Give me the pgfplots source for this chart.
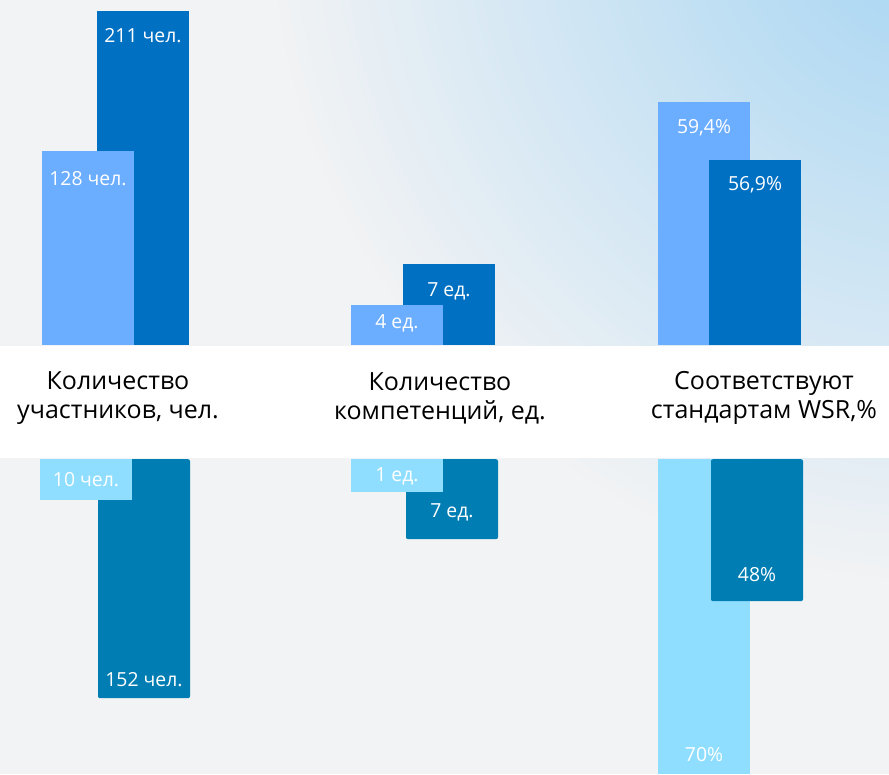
\documentclass[border=0pt]{standalone}
\usepackage{fontspec}
\setmainfont{Open Sans}
\usepackage{pgfplots}
\pgfplotsset{compat=1.18}
\definecolor{bgc}{HTML}{F2F3F4}
\definecolor{skyc}{HTML}{A4D4F3}
\definecolor{topL}{HTML}{6BADFF}
\definecolor{topD}{HTML}{0070C2}
\definecolor{botL}{HTML}{8FDEFF}
\definecolor{botD}{HTML}{007DB2}
\begin{document}
\begin{tikzpicture}
\begin{scope}[x=0.5pt,y=-0.5pt]
\useasboundingbox (0,0) rectangle (889,774);
\clip (0,0) rectangle (889,774);
\fill[bgc] (0,0) rectangle (889,774);
\shade[inner color=skyc, outer color=bgc] (940,-90) circle (680);
\fill[white] (0,346) rectangle (889,458);
\end{scope}
% upper half: bars growing upward from the white band
\begin{axis}[at={(0pt,-172.5pt)}, anchor=south west, scale only axis,
  width=444.5pt, height=172.5pt, xmin=0, xmax=889, ymin=0, ymax=345,
  axis line style={draw=none}, ytick=\empty, major tick length=0pt,
  xtick={118,440,764},
  xticklabels={{Количество\\участников, чел.},{Количество\\компетенций, ед.},{Соответствуют\\стандартам WSR,\%}},
  xticklabel style={anchor=center, yshift=-26.5pt, align=center, text=black,
    font=\fontsize{12.5}{14.5}\selectfont},
  ybar, bar width=92, clip=false,
  nodes near coords, point meta=explicit symbolic,
  every node near coord/.append style={anchor=center, text=white,
    font=\fontsize{9.7}{11}\selectfont}]
\addplot[fill=topD, draw=none, bar shift=0pt, every node near coord/.append style={yshift=-12pt}] coordinates {(143,334) [211 чел.]};
\addplot[fill=topD, draw=none, bar shift=0pt, every node near coord/.append style={yshift=-13.5pt}] coordinates {(449,81) [7 ед.]};
\addplot[fill=topL, draw=none, bar shift=0pt, every node near coord/.append style={yshift=-13.5pt}] coordinates {(88,194) [128 чел.]};
\addplot[fill=topL, draw=none, bar shift=0pt, every node near coord/.append style={yshift=-9pt}] coordinates {(397,40) [4 ед.]};
\addplot[fill=topL, draw=none, bar shift=0pt, every node near coord/.append style={yshift=-13pt}] coordinates {(704,243) [{59,4\%}]};
\addplot[fill=topD, draw=none, bar shift=0pt, every node near coord/.append style={yshift=-12.5pt}] coordinates {(755,185) [{56,9\%}]};
\end{axis}
% lower half: bars hanging downward from the white band
\begin{axis}[at={(0pt,-229.5pt)}, anchor=north west, scale only axis,
  width=444.5pt, height=157.5pt, xmin=0, xmax=889, ymin=0, ymax=315,
  y dir=reverse, hide axis,
  ybar, bar width=92, clip=false,
  nodes near coords, point meta=explicit symbolic,
  every node near coord/.append style={anchor=center, text=white,
    font=\fontsize{9.7}{11}\selectfont}]
\addplot[fill=botD, draw=none, rounded corners=1pt, bar shift=0pt, every node near coord/.append style={yshift=9.5pt}] coordinates {(144,239) [152 чел.]};
\addplot[fill=botD, draw=none, rounded corners=1pt, bar shift=0pt, every node near coord/.append style={yshift=13.5pt}] coordinates {(452,80) [7 ед.]};
\addplot[fill=botL, draw=none, bar shift=0pt, every node near coord/.append style={yshift=10.5pt}] coordinates {(86,41) [10 чел.]};
\addplot[fill=botL, draw=none, bar shift=0pt, every node near coord/.append style={yshift=8pt}] coordinates {(397,33) [1 ед.]};
\addplot[fill=botL, draw=none, bar shift=0pt, every node near coord/.append style={yshift=10pt}] coordinates {(704,315) [70\%]};
\addplot[fill=botD, draw=none, rounded corners=1pt, bar shift=0pt, every node near coord/.append style={yshift=13.5pt}] coordinates {(757,142) [48\%]};
\end{axis}
\end{tikzpicture}
\end{document}
